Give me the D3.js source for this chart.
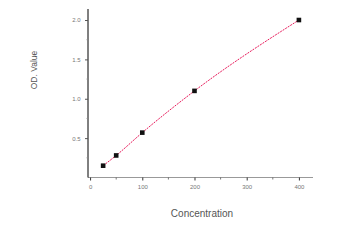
<!DOCTYPE html>
<html>
<head>
<meta charset="utf-8">
<script src="https://cdn.jsdelivr.net/npm/d3@7"></script>
<style>
body { margin: 0; background: #fff; }
text { font-family: "Liberation Sans", Arial, sans-serif; }
</style>
</head>
<body>
<svg id="canvas"></svg>
<script>
// standard curve points
let conc = [25, 50, 100, 200, 400];
let od = [0.15, 0.28, 0.57, 1.10, 2.0];
let xTicks = [0, 100, 200, 300, 400];
let yTicks = [0.5, 1.0, 1.5, 2.0];

var width = 342, height = 246;

let canvas = d3.select('#canvas')
    .attr('width', width)
    .attr('height', height);

var x = d3.scaleLinear().domain([-4, 427]).range([88, 313]);
var y = d3.scaleLinear().domain([0, 2.14]).range([177.5, 9]);

// x axis
let xa = canvas.append('g')
    .attr('transform', 'translate(0,177.5)')
    .call(d3.axisBottom(x).tickValues(xTicks).tickSize(3).tickFormat(d3.format('d')));
xa.select('.domain').attr('stroke', '#999').attr('d', 'M88,0H313');
xa.selectAll('.tick line').attr('stroke', '#333');
xa.selectAll('.tick text').attr('font-size', 6).attr('fill', '#777').attr('dy', '0.9em');

// minor x ticks
canvas.append('g').selectAll('line')
    .data([50, 150, 250, 350])
    .enter().append('line')
    .attr('x1', d => x(d)).attr('x2', d => x(d))
    .attr('y1', 177.5).attr('y2', 179.5)
    .attr('stroke', '#555').attr('stroke-width', 0.8);

// y axis
let ya = canvas.append('g')
    .attr('transform', 'translate(88,0)')
    .call(d3.axisLeft(y).tickValues(yTicks).tickSize(3).tickFormat(d3.format('.1f')));
ya.select('.domain').attr('stroke', '#000').attr('d', 'M0,177.5V9');
ya.selectAll('.tick line').attr('stroke', '#555');
ya.selectAll('.tick text').attr('font-size', 6).attr('fill', '#777').attr('dx', '-1.5');

canvas.append('g').selectAll('line')
    .data([0.25, 0.75, 1.25, 1.75])
    .enter().append('line')
    .attr('x1', 86.5).attr('x2', 88)
    .attr('y1', d => y(d)).attr('y2', d => y(d))
    .attr('stroke', '#888').attr('stroke-width', 0.8);

// fit line
let pts = conc.map((c, i) => [c, od[i]]);
var line = d3.line()
    .x(d => x(d[0]))
    .y(d => y(d[1]))
    .curve(d3.curveMonotoneX);

canvas.append('path')
    .datum(pts)
    .attr('d', line)
    .attr('fill', 'none')
    .attr('stroke', '#e8195a')
    .attr('stroke-width', 1)
    .attr('stroke-dasharray', '2,1');

// markers
canvas.selectAll('.pt')
    .data(pts)
    .enter()
    .append('rect')
    .attr('class', 'pt')
    .attr('x', d => x(d[0]) - 2.3)
    .attr('y', d => y(d[1]) - 2.3)
    .attr('width', 4.6)
    .attr('height', 4.6)
    .attr('fill', '#111');

// titles
canvas.append('text')
    .attr('x', 202).attr('y', 217)
    .attr('text-anchor', 'middle')
    .attr('font-size', 10)
    .attr('fill', '#555')
    .text('Concentration');

canvas.append('text')
    .attr('transform', 'translate(37,70) rotate(-90)')
    .attr('text-anchor', 'middle')
    .attr('font-size', 8.5)
    .attr('fill', '#555')
    .text('OD. Value');
</script>
</body>
</html>
